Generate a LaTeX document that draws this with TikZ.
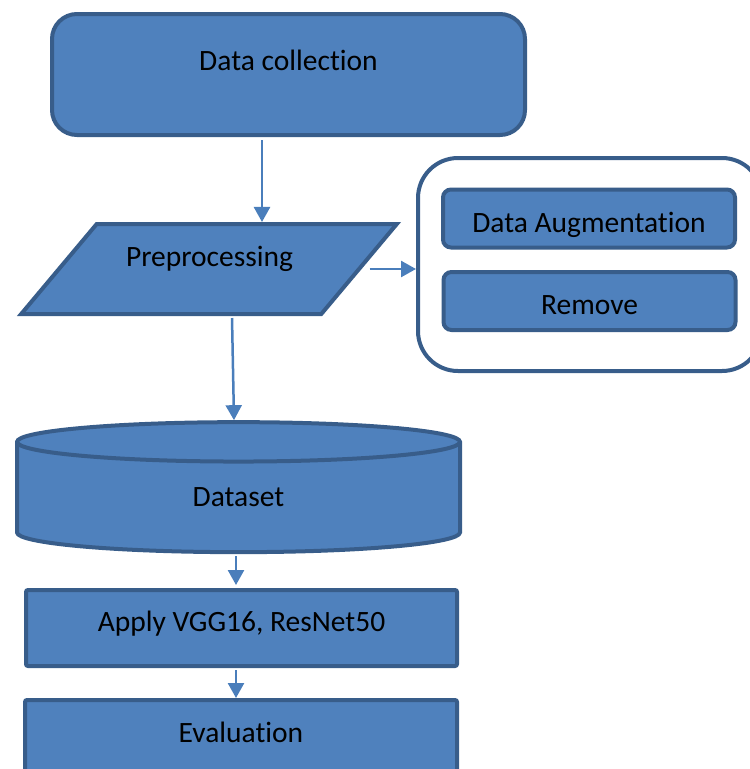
\documentclass[tikz,border=0pt]{standalone}
\usepackage{fontspec}
\setmainfont{Carlito}[Ligatures=NoCommon]
\usepackage{xcolor}
\usetikzlibrary{shapes.geometric,arrows.meta}
\definecolor{fillblue}{HTML}{4F81BD}
\definecolor{edgeblue}{HTML}{385D8A}
\definecolor{arrowblue}{HTML}{4A7EBB}
\tikzset{
  block/.style={draw=edgeblue, fill=fillblue, line width=4pt, font=\fontsize{29.5}{34}\selectfont, inner sep=0pt, text height=20pt, text depth=6pt},
  arr/.style={draw=arrowblue, line width=2.5pt, -{Triangle[length=15pt,width=16pt]}}
}
\begin{document}
\begin{tikzpicture}[x=1pt,y=-1pt]
\clip (0,0) rectangle (750,769);
\node[block, rounded corners=25pt, minimum width=473pt, minimum height=121pt] (collect) at (288.5,74.5) {\raisebox{11.5pt}{Data collection}};
\node[block, trapezium, trapezium left angle=50, trapezium right angle=130, text width=166pt, align=center, inner xsep=29.3pt, inner ysep=32pt] (prep) at (209,269) {\raisebox{10pt}{Preprocessing}};
\node[draw=edgeblue, fill=white, line width=4pt, rounded corners=40pt, minimum width=344pt, minimum height=213pt] (extras) at (590,264.5) {};
\node[block, rounded corners=8pt, minimum width=292pt, minimum height=58pt] (augment) at (589,218.5) {\raisebox{-6.5pt}{Data Augmentation}};
\node[block, rounded corners=8pt, minimum width=292pt, minimum height=58pt] (remove) at (589.5,301) {\raisebox{-6pt}{Remove}};
\node[block, cylinder, shape border rotate=90, aspect=0.43, minimum width=443pt, minimum height=130pt] (dataset) at (238.5,498) {\raisebox{-1pt}{Dataset}};
\node[block, rounded corners=2pt, minimum width=431pt, minimum height=76pt] (apply) at (241.5,628) {\raisebox{4pt}{Apply VGG16, ResNet50}};
\node[block, rounded corners=2pt, minimum width=432pt, minimum height=100pt] (eval) at (241,750) {\raisebox{15pt}{Evaluation}};
\draw[arr] ([xshift=-26.5pt,yshift=-3pt]collect.south) -- ([xshift=-26.5pt]collect.south |- prep.north);
\draw[arr] ([xshift=8pt]prep.east) -- (prep.east -| extras.west);
\draw[arr] ([xshift=23pt,yshift=-2pt]prep.south) -- ([xshift=-4.5pt]dataset.north);
\draw[arr] ([xshift=-2.5pt,yshift=-2pt]dataset.south) -- ([xshift=-5.5pt,yshift=3pt]apply.north);
\draw[arr] ([xshift=-5.5pt,yshift=-2pt]apply.south) -- ([xshift=-5pt]eval.north);
\end{tikzpicture}
\end{document}
